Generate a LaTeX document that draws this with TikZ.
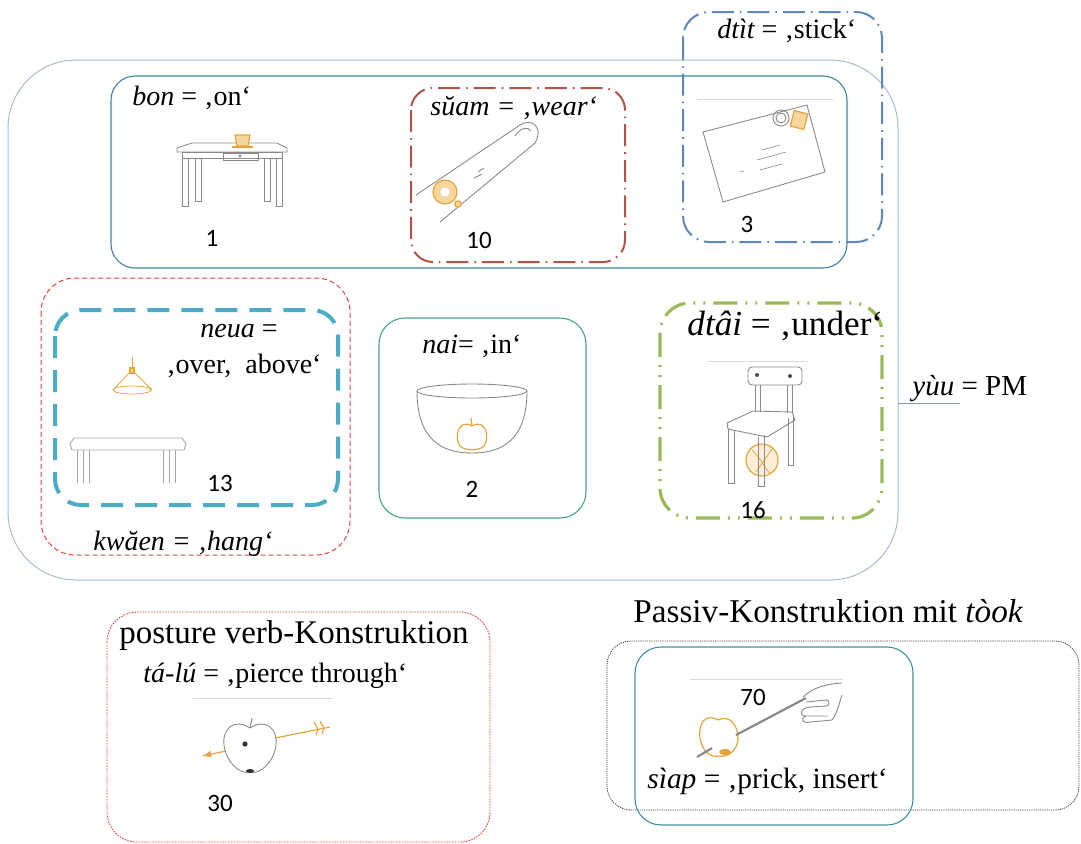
\documentclass[tikz,border=0pt]{standalone}
\usepackage{fontspec}
\setmainfont{Liberation Serif}
\newfontfamily\numfont{Carlito}
\usetikzlibrary{arrows}

\definecolor{outerblue}{HTML}{A9BBD0}
\definecolor{bonblue}{HTML}{3F82A8}
\definecolor{suamred}{HTML}{B5524A}
\definecolor{dtitblue}{HTML}{5D87B8}
\definecolor{hangred}{HTML}{E5443F}
\definecolor{neuateal}{HTML}{4BACC6}
\definecolor{naigreen}{HTML}{45A386}
\definecolor{dtaigreen}{HTML}{9BBB59}
\definecolor{tooktealblue}{HTML}{4190A6}
\definecolor{orangeline}{HTML}{E8A33D}
\definecolor{orangefill}{HTML}{F5D79E}
\definecolor{pencil}{HTML}{8A8A8A}

\begin{document}
\begin{tikzpicture}[x=0.5pt,y=-0.5pt,
  lbl/.style={inner sep=0pt,anchor=base west,font=\fontsize{14}{17}\selectfont},
  num/.style={inner sep=0pt,font=\numfont\fontsize{12.5}{15}\selectfont},
  sketch/.style={draw=pencil,line width=0.45pt},
  orng/.style={draw=orangeline,line width=0.6pt},
  rule/.style={draw=black!15,line width=0.4pt}]

\useasboundingbox (0,0) rectangle (1081,843);

% the boxes
\draw[outerblue,line width=0.5pt,rounded corners=34pt] (8,60) rectangle (898,580);
\draw[bonblue,line width=0.55pt,rounded corners=12pt] (111,76) rectangle (847,268);
\draw[suamred,line width=1pt,dash pattern=on 11pt off 3pt on 0.8pt off 3pt,rounded corners=11pt] (411,88) rectangle (625,262);
\draw[dtitblue,line width=1pt,dash pattern=on 11pt off 3pt on 0.8pt off 3pt,rounded corners=13pt] (683,12) rectangle (882,242);
\draw[hangred,line width=0.5pt,dash pattern=on 2.5pt off 1.5pt,rounded corners=17pt] (41,278) rectangle (350,555);
\draw[neuateal,line width=2pt,dash pattern=on 11pt off 6pt,rounded corners=13pt] (55,310) rectangle (338,505);
\draw[naigreen,line width=0.55pt,rounded corners=13pt] (379,318) rectangle (586,518);
\draw[dtaigreen,line width=1.6pt,dash pattern=on 12pt off 4pt on 1pt off 4pt on 1pt off 4pt,rounded corners=15pt] (660,303) rectangle (882,518);
\draw[hangred,line width=0.45pt,dash pattern=on 0.8pt off 0.6pt,rounded corners=15pt] (107,612) rectangle (490,842);
\draw[black!75,line width=0.4pt,dash pattern=on 0.6pt off 0.5pt,rounded corners=12pt] (607,641) rectangle (1079,810);
\draw[tooktealblue,line width=0.55pt,rounded corners=13pt] (635,647) rectangle (913,825);

% labels
\node[lbl] (bonlbl) at (132,105) {\itshape bon\upshape{} = ‚on‘};
\node[lbl] (suamlbl) at (430,115) {\itshape sŭam = ‚wear‘};
\node[lbl] (dtitlbl) at (717,38) {\itshape dtìt\upshape{} = ‚stick‘};
\node[lbl] (neualbl) at (200,337) {\itshape neua\upshape{} =};
\node[lbl] (overlbl) at (166,373) {‚over,\ \ above‘};
\node[lbl] (hanglbl) at (93,550) {\itshape kwăen = ‚hang‘};
\node[lbl] (nailbl) at (422,353) {\itshape nai\upshape{}= ‚in‘};
\node[lbl,font=\fontsize{17.6}{20}\selectfont] (dtailbl) at (687,335) {\itshape dtâi\upshape{} = ‚under‘};
\node[lbl,font=\fontsize{14.5}{17}\selectfont] (yuulbl) at (912,395) {\itshape yùu\upshape{} = PM};
\node[lbl,font=\fontsize{16.5}{19}\selectfont] (posturelbl) at (119,643) {posture verb-Konstruktion};
\node[lbl] (talulbl) at (143,682) {\itshape tá-lú\upshape{} = ‚pierce through‘};
\node[lbl,font=\fontsize{16.6}{19}\selectfont] (passivlbl) at (633,622) {Passiv-Konstruktion mit \itshape tòok};
\node[lbl,font=\fontsize{14.7}{17}\selectfont] (siaplbl) at (647,788) {\itshape sìap\upshape{} = ‚prick, insert‘};
\draw[dtitblue!80,line width=0.5pt] (898,403) -- (960,403); % underline of yuu

% numbers
\node[num] (n1) at (212,238) {1};
\node[num] (n10) at (479,240) {10};
\node[num] (n3) at (747,224) {3};
\node[num] (n13) at (220,483) {13};
\node[num] (n2) at (472,489) {2};
\node[num] (n16) at (753,510) {16};
\node[num] (n30) at (220,803) {30};
\node[num] (n70) at (753,697) {70};

% faint picture edges
\draw[rule] (697,99) -- (833,99);
\draw[rule] (707,361) -- (808,361);
\draw[rule] (193,698) -- (332,698);
\draw[rule] (690,679) -- (843,679);

% table with cup (1)
\draw[sketch] (177,148) -- (192,143) -- (277,143) -- (287,148) -- (287,152) -- (177,152) -- cycle;
\draw[sketch] (182,152) rectangle (282,158);
\draw[sketch] (223,153) rectangle (258,160);
\fill[pencil] (240,156) circle (0.8pt);
\foreach \lx/\ly in {182/206,195/201,264/201,276/206}
  \draw[sketch] (\lx,158) rectangle (\lx+6,\ly);
\filldraw[orng,fill=orangefill] (235,135) -- (250,135) -- (248,146) -- (237,146) -- cycle;
\draw[orng] (232,147) -- (253,147);

% finger with ring (10)
\draw[sketch] (416,195) -- (520,125) .. controls (532,117) and (544,128) .. (535,143) -- (440,222);
\draw[sketch] (515,136) .. controls (520,128) and (528,126) .. (531,131);
\draw[sketch] (478,172) -- (484,168) (474,178) -- (482,174);
\filldraw[orng,fill=orangefill] (445,192) circle (6pt);
\fill[white] (445,192) circle (2.3pt);
\filldraw[orng,fill=orangefill] (458,204) circle (1.6pt);

% envelope (3)
\draw[sketch] (703,132) -- (807,105) -- (825,172) -- (723,202) -- cycle;
\filldraw[orng,fill=orangefill,rotate around={-15:(799,120)}] (792,112) rectangle (806,128);
\draw[sketch] (781,118) circle (4pt) (781,118) circle (2.5pt);
\draw[sketch,line width=0.3pt] (762,150) -- (780,145) (757,160) -- (786,152) (760,170) -- (782,164) (740,172) -- (744,171);

% lamp over table (13)
\draw[orng,line width=0.4pt] (132,357) -- (132,370);
\filldraw[orng,fill=orangefill] (130,368) rectangle (134,373);
\draw[orng,line width=0.4pt] (129,373) -- (113,390) (135,373) -- (152,390);
\draw[orng,line width=0.4pt] (132,390) ellipse (9.5pt and 2pt);
\draw[sketch,draw=black!35] (74,438) -- (182,438) -- (186,444) -- (184,450) -- (72,450) -- (70,444) -- cycle;
\foreach \lx in {77,83,89,163,169,175}
  \draw[sketch,draw=black!35] (\lx,450) -- (\lx,483);

% bowl with apple (2)
\draw[sketch] (472,391) ellipse (27.5pt and 3.5pt);
\draw[sketch] (417,391) .. controls (417,440) and (442,453) .. (472,453) .. controls (502,453) and (527,440) .. (527,391);
\draw[orng] (472,426) .. controls (458,418) and (454,438) .. (460,446) .. controls (465,451) and (479,451) .. (484,446) .. controls (490,438) and (486,418) .. (472,426);
\draw[orng] (472,426) -- (471,418);

% chair with ball (16)
\draw[sketch,rounded corners=2pt] (748,367) rectangle (802,385);
\fill[black!70] (757,375) circle (1pt) (790,376) circle (1pt);
\draw[sketch] (755,385) -- (755,412) (760,385) -- (760,412) (787,385) -- (787,413) (792,385) -- (792,413);
\draw[sketch] (727,423) -- (753,411) -- (792,412) -- (795,420) -- (767,437) -- (728,429) -- cycle;
\filldraw[orng,fill=orangefill!40] (762,460) circle (8pt);
\draw[orng,line width=0.4pt] (752,450) .. controls (760,458) and (764,466) .. (770,474) (772,449) -- (756,472);
\draw[sketch] (728,429) -- (728,483) -- (734,483) -- (734,431);
\draw[sketch] (758,437) -- (758,486) -- (764,486) -- (764,435);
\draw[sketch] (788,418) -- (788,465) -- (793,465) -- (793,416);

% apple pierced by an arrow (30)
\draw[orng,-latex] (226,751) -- (202,756);
\draw[orng] (275,738) -- (330,727);
\draw[orng] (318,729) -- (314,722) (318,729) -- (316,735) (324,728) -- (320,721) (324,728) -- (322,734);
\draw[sketch] (250,728) .. controls (235,718) and (222,728) .. (224,745) .. controls (226,762) and (240,775) .. (250,772) .. controls (260,775) and (274,762) .. (276,745) .. controls (278,728) and (265,718) .. (250,728);
\draw[sketch] (250,728) -- (252,718);
\fill[black!80] (245,744) circle (1.3pt) (250,771) ellipse (2pt and 1pt);

% apple on a stick held by a hand (70)
\draw[orng] (718,720) .. controls (704,712) and (698,726) .. (700,738) .. controls (702,752) and (712,758) .. (718,756) .. controls (728,758) and (738,750) .. (738,738) .. controls (738,726) and (730,714) .. (718,720);
\fill[orangeline] (725,752) ellipse (3pt and 1.5pt);
\draw[pencil,line width=1.1pt] (697,757) -- (712,748);
\draw[pencil,line width=1.1pt] (736,735) -- (806,698);
\draw[sketch] (803,697) .. controls (812,688) and (825,684) .. (842,683);
\draw[sketch] (806,702) -- (826,700) .. controls (830,700) and (830,706) .. (826,706) -- (810,707);
\draw[sketch] (810,707) .. controls (800,708) and (798,716) .. (806,716) -- (828,716);
\draw[sketch] (806,716) .. controls (800,718) and (802,724) .. (810,722) -- (832,720) .. controls (838,712) and (840,700) .. (842,695);

\end{tikzpicture}
\end{document}
